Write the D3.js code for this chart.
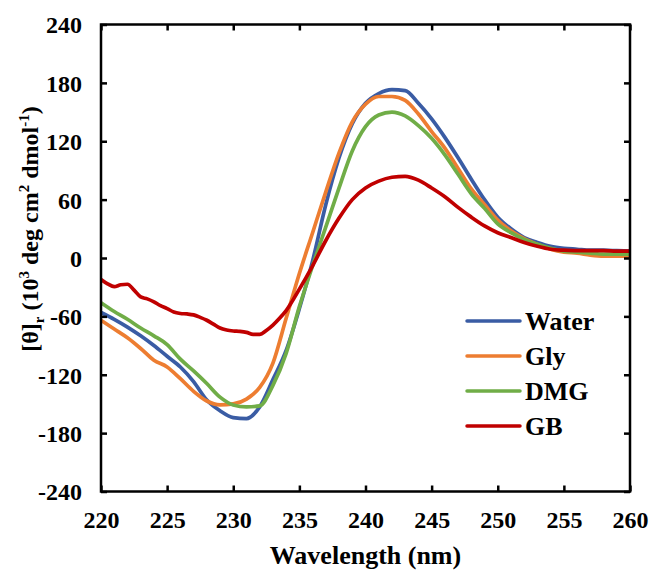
<!DOCTYPE html>
<html>
<head>
<meta charset="utf-8">
<script src="https://cdn.jsdelivr.net/npm/d3@7"></script>
<style>
  body { margin: 0; background: #fff; }
</style>
</head>
<body>
<div id="chart"></div>
<script>
// Data
const wavelengths = [220, 221, 222, 223, 224, 225, 226, 227, 228, 229, 230, 231, 232, 233, 234, 235, 236, 237, 238, 239, 240,
  241, 242, 243, 244, 245, 246, 247, 248, 249, 250, 251, 252, 253, 254, 255, 256, 257, 258, 259, 260];
const water = [-56, -63, -71, -80, -90, -101, -112, -127, -146, -157, -164, -165, -153, -125, -95, -52, -3, 55, 103, 138, 159,
  169, 173, 172, 159, 143, 124, 103, 81, 60, 42, 30, 21, 16, 12, 10, 9, 8, 8, 7.5, 7];
const gly = [-64, -73, -82, -93, -105, -112, -124, -137, -147, -151, -150, -145, -133, -108, -62, -16, 26, 68, 108, 140, 158,
  166, 166, 162, 148, 130, 113, 92, 71, 55, 39, 28, 20, 14, 9, 6, 5, 3, 2, 2, 2];
const dmg = [-46, -55, -63, -72, -80, -89, -104, -116, -129, -143, -151, -153, -152, -131, -98, -50, -8, 32, 72, 110, 135,
  147, 150, 146, 136, 123, 106, 86, 66, 51, 35, 26, 19, 14, 10, 7, 6, 5, 4, 4, 4];
const gbWavelengths = [220, 220.5, 221, 221.5, 222, 222.5, 223, 223.5, 224, 224.5, 225, 225.5, 226, 226.5, 227, 227.5, 228, 228.5,
  229, 229.5, 230, 230.5, 231, 231.5, 232, 232.5, 233, 233.5, 234, 235, 236, 237, 238, 239, 240, 241, 242, 243, 244, 245,
  246, 247, 248, 249, 250, 251, 252, 253, 254, 255, 256, 257, 258, 259, 260];
const gb = [-22, -26.5, -29.5, -27.5, -27, -33, -40, -42, -45, -49, -52, -55.5, -57, -57.5, -58.5, -61, -64, -68, -72, -74, -75,
  -75.5, -76.5, -78.5, -78.5, -74.5, -69, -62, -54, -32, -8, 18, 41, 60, 72, 79, 83, 84, 80, 72,
  63, 52, 42, 33, 26, 21, 16, 12, 9, 8, 7.5, 7.5, 7.5, 7, 7];

const xTicks = [220, 225, 230, 235, 240, 245, 250, 255, 260];
const yTicks = [-240, -180, -120, -60, 0, 60, 120, 180, 240];

const series = [
  { name: "Water", x: wavelengths, y: water, color: "#3A5CA4" },
  { name: "Gly", x: wavelengths, y: gly, color: "#ED7D31" },
  { name: "DMG", x: wavelengths, y: dmg, color: "#70AD47" },
  { name: "GB", x: gbWavelengths, y: gb, color: "#C00000" }
];

const fontFamily = "Liberation Serif";

// Layout
const width = 652, height = 577;
const plot = { left: 101, right: 630, top: 24.5, bottom: 491.5 };

const svg = d3.select("#chart")
  .append("svg")
  .attr("width", width)
  .attr("height", height);

const xScale = d3.scaleLinear().domain([220, 260]).range([plot.left, plot.right]);
const yScale = d3.scaleLinear().domain([-240, 240]).range([plot.bottom, plot.top]);

// Curves
const line = d3.line()
  .x(d => xScale(d[0]))
  .y(d => yScale(d[1]))
  .curve(d3.curveMonotoneX);

series.forEach(s => {
  svg.append("path")
    .datum(s.x.map((w, i) => [w, s.y[i]]))
    .attr("fill", "none")
    .attr("stroke", s.color)
    .attr("stroke-width", 3.7)
    .attr("stroke-linejoin", "round")
    .attr("d", line);
});

// Axes: inward ticks on all four sides
const tickLen = 6;

const xAxis = svg.append("g")
  .attr("transform", `translate(0,${plot.bottom})`)
  .call(d3.axisBottom(xScale).tickValues(xTicks).tickSizeInner(-tickLen).tickSizeOuter(0).tickFormat(d => String(d)));
xAxis.selectAll("text").attr("y", 36).attr("dy", 0);

svg.append("g")
  .attr("transform", `translate(0,${plot.top})`)
  .call(d3.axisTop(xScale).tickValues(xTicks).tickSizeInner(-tickLen).tickSizeOuter(0).tickFormat(""));

const yAxis = svg.append("g")
  .attr("transform", `translate(${plot.left},0)`)
  .call(d3.axisLeft(yScale).tickValues(yTicks).tickSizeInner(-tickLen).tickSizeOuter(0).tickFormat(d => String(d)));
yAxis.selectAll("text").attr("x", -19).attr("dy", "0.35em");

svg.append("g")
  .attr("transform", `translate(${plot.right},0)`)
  .call(d3.axisRight(yScale).tickValues(yTicks).tickSizeInner(-tickLen).tickSizeOuter(0).tickFormat(""));

svg.selectAll(".domain").remove();
svg.selectAll(".tick line").attr("stroke", "#000").attr("stroke-width", 2.5);
svg.selectAll(".tick text")
  .attr("font-family", fontFamily)
  .attr("font-weight", "bold")
  .attr("font-size", 24)
  .attr("fill", "#000");

svg.append("rect")
  .attr("x", plot.left)
  .attr("y", plot.top)
  .attr("width", plot.right - plot.left)
  .attr("height", plot.bottom - plot.top)
  .attr("fill", "none")
  .attr("stroke", "#000")
  .attr("stroke-width", 2.5);

// Axis titles
svg.append("text")
  .attr("x", (plot.left + plot.right) / 2)
  .attr("y", 564)
  .attr("text-anchor", "middle")
  .attr("font-family", fontFamily)
  .attr("font-weight", "bold")
  .attr("font-size", 26)
  .text("Wavelength (nm)");

const yTitle = svg.append("text")
  .attr("transform", "translate(38,229) rotate(-90)")
  .attr("text-anchor", "middle")
  .attr("font-family", fontFamily)
  .attr("font-weight", "bold")
  .attr("font-size", 24);
yTitle.append("tspan").text("[θ]");
yTitle.append("tspan").attr("dy", 6).attr("font-size", 15).text("r");
yTitle.append("tspan").attr("dy", -6).text(" (10");
yTitle.append("tspan").attr("dy", -9).attr("font-size", 15).text("3");
yTitle.append("tspan").attr("dy", 9).text(" deg cm");
yTitle.append("tspan").attr("dy", -9).attr("font-size", 15).text("2");
yTitle.append("tspan").attr("dy", 9).text(" dmol");
yTitle.append("tspan").attr("dy", -9).attr("font-size", 15).text("-1");
yTitle.append("tspan").attr("dy", 9).text(")");

// Legend
const legend = svg.append("g").attr("transform", "translate(467,321)");
series.forEach((s, i) => {
  const row = legend.append("g").attr("transform", `translate(0,${i * 35})`);
  row.append("line")
    .attr("x1", 0).attr("x2", 53)
    .attr("y1", 0).attr("y2", 0)
    .attr("stroke", s.color)
    .attr("stroke-width", 3.5)
    .attr("stroke-linecap", "round");
  row.append("text")
    .attr("x", 58)
    .attr("y", 8.5)
    .attr("font-family", fontFamily)
    .attr("font-weight", "bold")
    .attr("font-size", 26)
    .text(s.name);
});
</script>
</body>
</html>
